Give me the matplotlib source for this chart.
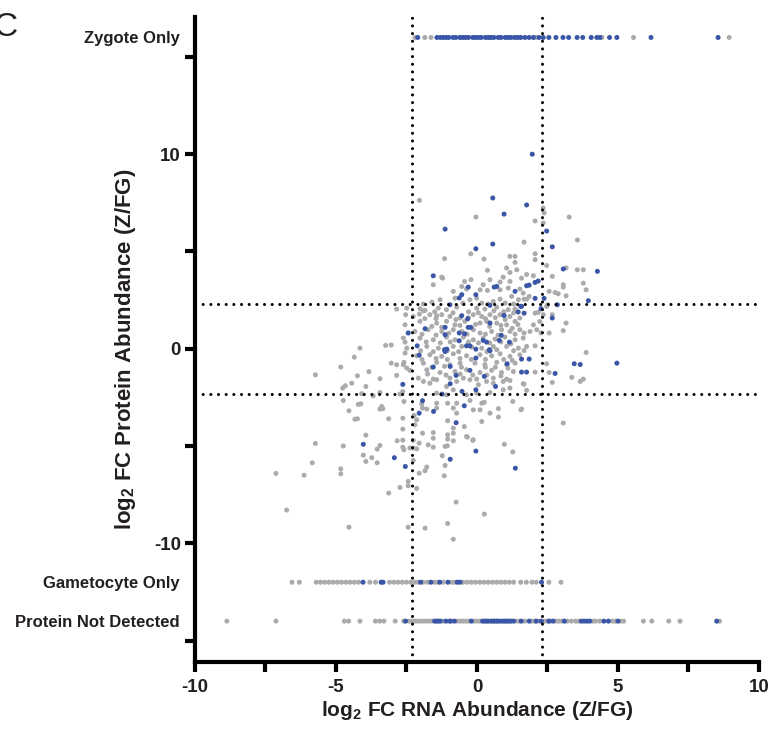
import matplotlib
matplotlib.use('Agg')
import matplotlib.pyplot as plt

plt.rcParams['font.family'] = ['Liberation Sans', 'DejaVu Sans']
plt.rcParams['mathtext.fontset'] = 'custom'
plt.rcParams['mathtext.rm'] = 'Liberation Sans'
plt.rcParams['mathtext.bf'] = 'Liberation Sans:bold'

# log2 fold changes, zygote vs female gametocyte (RNA x, protein y)
grey_cloud = [
    (-0.22, 4.88), (1.17, 4.75), (1.35, 4.75), (1.35, 4.44),
    (0.37, 4.03), (1.05, 4.15), (1.17, 3.92), (1.41, 4.06),
    (-1.55, 3.29), (-1.25, 3.68), (0.46, 3.55), (0.82, 3.43), (0.93, 3.68), (1.17, 3.46),
    (-0.84, 2.95), (-0.54, 3.2), (-0.37, 3.07), (0.11, 3.03), (0.22, 3.29), (0.37, 3.0),
    (0.82, 3.03), (1.11, 3.12), (1.52, 3.07), (1.64, 2.86),
    (-1.31, 2.52), (-0.78, 2.6), (-0.25, 2.52), (-0.01, 2.6), (0.17, 2.35), (0.58, 2.43),
    (0.82, 2.55), (1.23, 2.69), (1.47, 2.52), (1.76, 2.55),
    (-2.49, 2.09), (-2.02, 2.06), (-1.37, 2.09), (-1.08, 2.01), (-0.72, 2.14), (-0.01, 2.09),
    (0.28, 2.04), (0.7, 2.14), (1.11, 2.01), (1.35, 2.04),
    (-2.26, 1.66), (-1.67, 1.75), (-1.25, 1.75), (-0.96, 1.66), (-0.6, 1.58), (-0.13, 1.75),
    (0.17, 1.66), (0.46, 1.75), (0.82, 1.75), (1.17, 1.66), (1.52, 1.58),
    (-2.55, 1.23), (-2.02, 1.41), (-1.43, 1.32), (-1.08, 1.41), (-0.78, 1.23), (-0.43, 1.41),
    (0.11, 1.32), (0.34, 1.41), (0.7, 1.32), (1.05, 1.23), (1.35, 1.41),
    (-2.2, 0.89), (-1.73, 0.98), (-1.25, 0.89), (-0.84, 0.98), (-0.54, 0.89), (-0.13, 0.98),
    (0.11, 0.81), (0.52, 0.89), (0.87, 0.98), (1.17, 0.89), (1.52, 0.98),
    (-2.61, 0.55), (-2.02, 0.55), (-1.55, 0.46), (-1.08, 0.6), (-0.78, 0.46), (-0.48, 0.6),
    (-0.13, 0.46), (0.22, 0.55), (0.64, 0.5), (0.99, 0.6), (1.35, 0.46), (1.64, 0.55),
    (-2.49, 0.03), (-1.78, 0.12), (-1.37, 0.03), (-0.84, 0.12), (-0.54, 0.12), (-0.19, 0.09),
    (0.17, 0.03), (0.58, 0.12), (1.05, 0.12), (1.47, 0.03),
    (-2.14, -0.36), (-1.67, -0.31), (-1.25, -0.39), (-0.84, -0.26), (-0.37, -0.36), (0.11, -0.31),
    (0.52, -0.36), (0.82, -0.26), (1.17, -0.39), (1.52, -0.31),
    (-2.61, -0.82), (-1.9, -0.74), (-1.43, -0.7), (-0.96, -0.82), (-0.6, -0.74), (-0.07, -0.74),
    (0.28, -0.82), (0.7, -0.7), (1.05, -0.82), (1.35, -0.74),
    (-2.38, -1.11), (-1.78, -1.08), (-1.31, -1.22), (-0.78, -1.17), (-0.37, -1.08), (0.11, -1.22),
    (0.52, -1.11), (0.87, -1.22), (1.29, -1.17),
    (-2.08, -1.51), (-1.55, -1.56), (-0.96, -1.51), (-0.48, -1.51), (-0.01, -1.56), (0.58, -1.51),
    (1.05, -1.56),
    (-1.9, 2.3), (-1.6, 2.4), (-0.5, 2.35), (0.4, 2.3), (1.0, 2.35), (1.3, 2.3),
    (-1.9, 1.95), (-1.5, 1.9), (-0.85, 1.85), (-0.3, 1.9), (0.05, 1.85), (0.6, 1.95), (0.95, 1.9),
    (1.3, 1.85), (-1.85, 1.55), (-1.45, 1.55), (-0.75, 1.5), (-0.3, 1.6), (0.3, 1.55), (0.65, 1.6),
    (1.0, 1.5), (1.45, 1.25), (-1.6, 1.15), (-1.25, 1.1), (-0.6, 1.2), (-0.05, 1.25), (0.45, 1.15),
    (0.85, 1.2), (1.25, 1.05), (-1.95, 0.75), (-1.45, 0.7), (-1.0, 0.8), (-0.35, 0.75), (0.3, 0.75),
    (0.75, 0.7), (1.35, 0.75), (-1.8, 0.35), (-1.3, 0.3), (-0.95, 0.35), (-0.3, 0.35), (0.05, 0.3),
    (0.45, 0.3), (0.85, 0.35), (1.2, 0.25), (-2.0, -0.1), (-1.55, -0.15), (-1.05, -0.1),
    (-0.65, -0.15), (0.35, -0.15), (0.7, -0.05), (1.3, -0.1), (-1.95, -0.55), (-1.45, -0.5),
    (-1.05, -0.55), (-0.6, -0.5), (-0.2, -0.55), (0.3, -0.55), (0.95, -0.55), (1.25, -0.6),
    (-1.6, -0.95), (-1.15, -0.9), (-0.55, -0.95), (0.3, -0.95), (0.65, -0.95), (1.1, -1.0),
    (-1.75, -1.3), (-1.1, -1.35), (-0.6, -1.3), (-0.15, -1.35), (0.35, -1.35), (0.85, -1.4),
    (-1.9, -1.68), (-1.67, -1.77), (-1.43, -1.59), (-1.08, -1.94), (-0.72, -1.68), (-0.25, -1.59),
    (0.05, -1.85), (0.34, -1.68), (0.58, -1.77), (0.93, -1.68), (1.17, -1.63), (1.64, -1.8),
    (-0.84, -2.11), (-0.37, -2.37), (-0.01, -2.28), (0.46, -2.25), (0.93, -2.11), (1.17, -2.02),
    (-1.43, -2.28), (-1.08, -2.37),
    (-1.84, -9.22), (-1.04, -8.98), (-0.84, -9.79), (0.26, -8.5), (-0.74, -7.88), (-1.16, -6.53),
    (-1.84, -6.27), (-1.78, -6.08), (0.97, -4.91), (1.27, -5.3), (-1.23, -5.5), (-1.13, -6.0),
    (-2.14, -7.18), (-2.05, -6.4), (-2.26, -5.74), (-2.14, -5.14), (-2.26, -5.11),
    (-1.73, -4.94), (-1.55, -5.06), (-1.55, -4.6), (-1.55, -4.31), (-1.93, -4.34), (-2.05, -4.85),
    (-2.26, -4.71), (-1.13, -5.02), (-1.05, -4.99), (-0.84, -4.73), (-0.84, -4.34), (-1.04, -4.42),
    (-1.04, -4.65), (-1.04, -3.7), (-0.84, -4.08), (-0.45, -4.0), (-0.15, -4.71), (-0.34, -4.54),
    (-2.2, -3.91), (-2.14, -3.65), (-2.23, -3.43), (-1.93, -3.05), (-1.78, -3.1), (-1.96, -2.84),
    (-1.43, -3.05), (-1.43, -2.8), (-0.72, -3.31), (-0.84, -3.05), (-1.04, -2.8), (-0.72, -2.8),
    (-0.25, -2.66), (-0.13, -3.14), (0.11, -3.14), (0.17, -2.8), (0.26, -2.75), (0.46, -3.31),
    (0.76, -3.08), (0.76, -3.51), (0.17, -3.74), (-0.37, -4.51), (-0.13, -4.68), (1.27, -2.71),
    (1.56, -3.14),
    (-4.15, 0.03), (-3.24, 0.17), (-3.04, 0.19), (-2.55, 0.34), (-4.35, -0.43), (-4.83, -0.94),
    (-3.04, -0.74), (-2.85, -0.82), (-2.55, -0.22), (-2.59, -0.70), (-2.49, -0.99), (-5.73, -1.34),
    (-4.24, -1.39), (-3.83, -1.18), (-3.44, -1.54), (-2.85, -1.37), (-4.67, -1.9), (-4.76, -2.02),
    (-4.44, -1.77), (-3.94, -1.94), (-4.09, -2.31), (-3.68, -2.42), (-3.44, -2.25), (-2.73, -2.33),
    (-2.63, -2.2), (-4.74, -2.66), (-4.21, -2.86), (-4.12, -2.83), (-3.38, -2.97), (-3.34, -3.08),
    (-3.44, -3.1), (-4.54, -3.19), (-4.33, -3.62), (-4.24, -3.6), (-3.13, -3.6), (-2.63, -3.57),
    (-2.59, -2.71), (-2.63, -4.13), (-3.94, -4.44), (-5.73, -4.87), (-4.74, -5.0), (-2.83, -4.73),
    (-2.63, -4.7), (-3.44, -4.97), (-3.54, -5.16), (-4.03, -5.47), (-3.73, -5.6), (-3.94, -5.79),
    (-3.54, -5.86), (-5.84, -5.86), (-4.83, -6.17), (-4.83, -6.43), (-7.13, -6.41), (-6.13, -6.5),
    (-2.73, -7.13), (-3.13, -7.42), (-2.44, -6.82), (-2.44, -7.04), (-6.75, -8.29), (-4.54, -9.17),
    (-2.44, -9.17), (-2.63, -5.06), (-2.38, -5.1), (-2.59, -5.19),
    (-2.04, 7.63), (-0.04, 6.77), (2.38, 6.98), (-1.15, 4.63), (0.25, 4.61), (-1.22, 3.63),
    (-0.21, 3.55), (-0.44, 3.46), (-2.85, 2.04), (-2.53, 1.75), (-2.04, 1.78), (-1.84, 1.97),
    (-1.43, 1.70), (2.5, 2.26),
    (2.35, 7.23), (3.27, 6.77), (2.06, 6.57), (2.35, 6.46), (3.56, 5.59), (1.67, 5.48),
    (2.06, 4.88), (2.06, 4.58), (2.47, 4.28), (3.16, 4.16), (3.56, 4.06), (3.77, 4.06),
    (2.67, 3.72), (3.77, 3.37), (3.06, 3.29), (3.06, 3.17), (3.87, 3.03), (2.56, 2.95),
    (2.77, 2.89), (2.88, 2.83), (3.16, 2.72), (2.47, 2.18), (2.67, 1.75), (2.06, 1.83),
    (2.17, 1.87), (3.16, 1.32), (3.06, 0.93), (2.56, 0.81), (2.27, 0.81), (3.87, -0.19),
    (2.47, -0.77), (2.56, -1.22), (3.36, -1.47), (3.66, -1.68), (3.77, -1.56), (2.67, -1.73),
    (3.06, -3.82), (2.06, -1.2), (1.67, -1.82), (1.76, -2.14), (1.58, -3.1), (2.0, 3.75),
    (1.76, 3.82), (1.58, 3.63), (1.85, 2.69), (1.67, 2.55), (2.0, 1.23), (2.12, 0.98),
    (1.88, 0.89), (1.67, 0.81), (1.76, 0.12), (2.06, 0.15), (1.67, -0.09), (2.23, 1.40),
    (2.35, 1.75),
]

blue_cloud = [
    (1.96, 10.0), (0.56, 7.75), (1.76, 7.39), (0.96, 6.92), (-1.13, 6.15), (2.47, 6.05),
    (0.56, 5.38), (-0.04, 5.14), (2.67, 5.24), (3.06, 4.10), (4.27, 3.98), (-1.55, 3.75),
    (-0.31, 3.17), (0.61, 3.17), (0.70, 3.2), (1.85, 3.27), (1.76, 3.24), (2.06, 3.41),
    (2.17, 3.48), (1.35, 2.95), (-0.54, 2.78), (-0.63, 2.61), (-0.04, 2.78), (3.95, 2.47),
    (2.38, 2.59), (2.06, 2.59), (2.85, 2.26), (0.46, 2.23), (-0.96, 2.26), (1.55, 2.18),
    (1.46, 1.89), (1.58, 2.18), (1.67, 1.83), (2.27, 2.06), (2.67, 1.58), (0.96, 1.71),
    (-0.54, 1.7), (-0.33, 1.54), (-1.84, 1.03), (-2.44, 0.81), (-1.13, 1.1), (-0.31, 1.1),
    (-0.22, 1.1), (0.46, 1.32), (-0.63, 0.81), (-0.44, 0.77), (0.86, 0.69), (-1.13, 0.72),
    (0.22, 0.43), (0.34, 0.34), (0.79, 0.43), (1.15, 0.34), (-0.63, 0.41), (-0.37, 0.15),
    (-0.25, 0.15), (-1.07, -0.02), (-1.15, -0.05), (-0.04, -0.02), (0.44, -0.05), (-2.12, 0.15),
    (-2.05, -0.33), (-0.04, -0.48), (-1.13, -0.14), (0.46, -0.1), (-1.55, -0.94), (-0.95, -0.91),
    (-0.25, -1.11), (0.26, -1.42), (1.07, -0.77), (1.85, -0.53), (1.58, -0.53), (1.76, -1.2),
    (1.58, -1.2), (2.77, -1.27), (3.45, -0.77), (3.66, -0.81), (4.96, -0.74), (-0.74, -1.37),
    (-0.95, -1.8), (0.66, -1.94), (-0.04, -2.11), (-0.53, -2.19), (-1.24, -2.33), (-2.63, -1.83),
    (-0.45, -2.93), (-1.93, -2.67), (-2.05, -3.31), (-1.54, -3.22), (-0.74, -3.8), (-4.03, -4.91),
    (-2.93, -5.6), (-2.54, -6.05), (-0.95, -5.68), (-0.04, -5.26), (1.36, -6.14),
]

# proteins seen in only one stage / not at all: RNA log2 FC only
zygote_only_grey = [-2.2, -1.85, -1.63, -0.6, 0.46, 1.28, 2.1, 4.43, 5.55, 8.94]
zygote_only_blue = [-2.1, -1.42, -1.3, -1.2, -1.1, -1.0, -0.85, -0.75, -0.6, -0.5, -0.4,
                    -0.3, -0.15, -0.05, 0.05, 0.15, 0.3, 0.4, 0.5, 0.6, 0.75, 0.85, 1.0,
                    1.1, 1.2, 1.35, 1.45, 1.55, 1.7, 1.85, 2.0, 2.2, 2.35, 2.55, 2.8, 3.05,
                    3.25, 3.55, 3.75, 4.05, 4.25, 4.36, 4.7, 4.96, 6.17, 8.55]
gametocyte_only_grey = [-6.56, -6.3, -5.7, -5.55, -5.4, -5.25, -5.1, -4.95, -4.8, -4.65,
                        -4.5, -4.35, -4.2, -3.8, -3.6, -3.1, -2.95, -2.8, -2.65, -2.5,
                        -2.35, -2.2, -2.1, -1.9, -1.75, -1.5, -1.4, -1.2, -0.9, -0.8,
                        -0.5, -0.35, -0.2, -0.05, 0.1, 0.25, 0.4, 0.55, 0.7, 0.85, 1.0,
                        1.15, 1.3, 1.55, 1.75, 1.95, 2.1, 2.55, 2.98]
gametocyte_only_blue = [-4.04, -3.4, -3.33, -2.0, -1.63, -1.32, -1.03, -0.7, -0.6, 2.29]
not_detected_grey = [-8.87, -7.13, -4.7, -4.55, -4.15, -3.6, -3.45, -3.3, -2.9, -2.6, -2.4,
                     -2.3, -2.2, -2.1, -2.0, -1.9, -1.8, -1.7, -1.6, -1.45, -1.35, -1.2,
                     -1.0, -0.9, -0.7, -0.6, -0.5, -0.4, -0.3, -0.1, 0.0, 0.1, 0.25, 0.35,
                     0.55, 0.65, 0.75, 0.95, 1.05, 1.15, 1.4, 1.5, 1.7, 1.95, 2.05, 2.2,
                     2.4, 2.5, 2.6, 2.8, 2.9, 3.0, 3.2, 3.35, 3.5, 3.6, 4.1, 4.2, 4.35, 4.8,
                     4.9, 5.1, 5.2, 5.9, 6.2, 6.8, 7.2, 8.6]
not_detected_blue = [-2.53, -1.5, -1.4, -1.3, -1.1, -0.95, -0.8, -0.2, 0.2, 0.3, 0.4, 0.5,
                     0.6, 0.7, 0.8, 0.9, 1.0, 1.1, 1.2, 1.3, 1.57, 1.85, 2.1, 2.28, 2.55,
                     2.7, 3.1, 3.7, 3.8, 3.9, 4.0, 4.5, 4.66, 5.0, 8.5]

row_y = {'zygote': 16, 'gametocyte': -12, 'not_detected': -14}
cutoff = 2.32  # log2(5)

grey = '#ababad'
blue = '#3a56a6'
ink = '#231f20'

fig = plt.figure(figsize=(7.7, 7.47), dpi=100)
ax = fig.add_axes([0.2532, 0.1138, 0.7325, 0.8634])

def dots(xs, ys, color, z):
    ax.scatter(xs, ys, s=13, color=color, edgecolors='none', zorder=z, clip_on=False)

dots([p[0] for p in grey_cloud], [p[1] for p in grey_cloud], grey, 2)
dots(zygote_only_grey, [row_y['zygote']] * len(zygote_only_grey), grey, 2)
dots(gametocyte_only_grey, [row_y['gametocyte']] * len(gametocyte_only_grey), grey, 2)
dots(not_detected_grey, [row_y['not_detected']] * len(not_detected_grey), grey, 2)

dots([p[0] for p in blue_cloud], [p[1] for p in blue_cloud], blue, 2.5)
dots(zygote_only_blue, [row_y['zygote']] * len(zygote_only_blue), blue, 2.5)
dots(gametocyte_only_blue, [row_y['gametocyte']] * len(gametocyte_only_blue), blue, 2.5)
dots(not_detected_blue, [row_y['not_detected']] * len(not_detected_blue), blue, 2.5)

dotted = dict(color='black', lw=2.2, linestyle=(0, (0.01, 2.5)), dash_capstyle='round', zorder=3)
for c in (-cutoff, cutoff):
    ax.axvline(c, **dotted)
    ax.axhline(c, **dotted)

ax.set_xlim(-10, 10)
ax.set_ylim(-16.1, 17.05)

for side in ('top', 'right'):
    ax.spines[side].set_visible(False)
for side in ('left', 'bottom'):
    ax.spines[side].set_linewidth(3)
    ax.spines[side].set_color('black')

ax.set_xticks([-10, -5, 0, 5, 10])
ax.set_xticklabels(['-10', '-5', '0', '5', '10'])
ax.set_xticks([-7.5, -2.5, 2.5, 7.5], minor=True)
ax.set_yticks([-15, -10, -5, 0, 5, 10, 15])
ax.set_yticklabels(['', '-10', '', '0', '', '10', ''])
ax.set_yticks([-14, -12, 16], minor=True)
ax.set_yticklabels(['Protein Not Detected', 'Gametocyte Only', 'Zygote Only'], minor=True)

ax.tick_params(axis='both', which='major', direction='out', length=7, width=3, colors='black',
               labelsize=13.5, pad=3, labelcolor=ink)
ax.tick_params(axis='x', which='major', pad=5)
ax.tick_params(axis='x', which='minor', direction='out', length=7, width=3, colors='black')
ax.tick_params(axis='y', which='minor', length=0, labelsize=12, pad=11, labelcolor=ink)
for lab in ax.get_xticklabels() + ax.get_yticklabels() + ax.get_yticklabels(minor=True):
    lab.set_fontweight('bold')

fig.text(477 / 770, 1 - 711 / 747, r'log$_\mathbf{2}$ FC RNA Abundance (Z/FG)',
         ha='center', va='center', fontsize=15, fontweight='bold', color=ink)
fig.text(125 / 770, 1 - 349 / 747, r'log$_\mathbf{2}$ FC Protein Abundance (Z/FG)',
         ha='center', va='center', rotation=90, fontsize=16, fontweight='bold', color=ink)
fig.text(-0.009, 1 - 27 / 747, 'C', ha='left', va='center', fontsize=24, color=ink)

fig.savefig('out.png', dpi=100)
